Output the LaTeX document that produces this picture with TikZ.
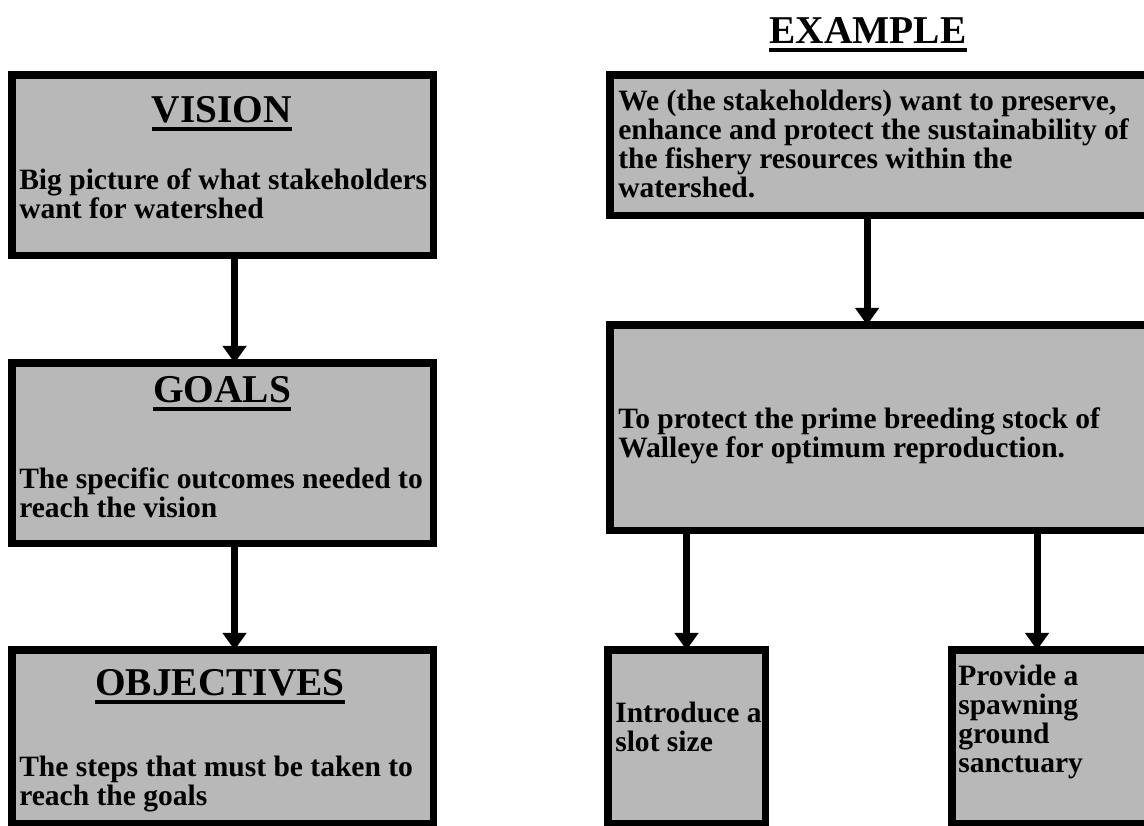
\documentclass[tikz,border=0pt]{standalone}
\usepackage{fontspec}
\setmainfont{Liberation Serif}
\usetikzlibrary{arrows.meta}

\tikzset{
  stage/.style={draw, line width=5pt, fill=black!28, anchor=north west, inner sep=0pt, outer sep=0pt},
  head/.style={anchor=base, inner sep=0pt, font=\fontsize{28}{30}\selectfont\bfseries},
  body/.style={anchor=north west, align=left, inner sep=0pt, font=\fontsize{21}{20.6}\selectfont\bfseries},
  flow/.style={line width=5pt, -{Triangle[length=4.3mm, width=5.8mm]}},
  headrule/.style={line width=3pt},
}

\begin{document}
\begin{tikzpicture}[x=0.025cm, y=-0.025cm]
  \clip (0,0) rectangle (1144,825);

  % planning levels
  \node[stage, minimum width=10.525cm, minimum height=4.5cm] (vision) at (12,75) {};
  \node[stage, minimum width=10.525cm, minimum height=4.5cm] (goals) at (12,363) {};
  \node[stage, minimum width=10.525cm, minimum height=4.325cm] (objectives) at (12,650) {};

  \node[head] (visionhead) at (222,122) {VISION};
  \node[body] (visiontext) at (19,168) {Big picture of what stakeholders\\want for watershed};
  \node[head] (goalshead) at (222,402) {GOALS};
  \node[body] (goalstext) at (19,467) {The specific outcomes needed to\\reach the vision};
  \node[head] (objectiveshead) at (220,695) {OBJECTIVES};
  \node[body] (objectivestext) at (19,756) {The steps that must be taken to\\reach the goals};

  \draw[flow] ([xshift=3mm]vision.south) -- ([xshift=3mm]goals.north);
  \draw[flow] ([xshift=3mm]goals.south) -- ([xshift=3mm]objectives.north);

  % walleye example
  \node[head] (example) at (868,43) {EXAMPLE};

  \node[stage, minimum width=14cm, minimum height=3.5cm] (wish) at (610,75) {};
  \node[stage, minimum width=14cm, minimum height=5.125cm] (aim) at (610,325) {};
  \node[stage, minimum width=3.925cm, minimum height=4.325cm] (slot) at (608,650) {};
  \node[stage, minimum width=5.5cm, minimum height=4.325cm] (sanct) at (952,650) {};

  \node[body] (wishtext) at (618,90) {We (the stakeholders) want to preserve,\\enhance and protect the sustainability of\\the fishery resources within the\\watershed.};
  \node[body] (aimtext) at (618,407) {To protect the prime breeding stock of\\Walleye for optimum reproduction.};
  \node[body] (slottext) at (615,702) {Introduce a\\slot size};
  \node[body] (sancttext) at (958,665) {Provide a\\spawning\\ground\\sanctuary};

  \coordinate (wishout) at ([xshift=-5.75mm]wish.south);
  \coordinate (sanctin) at ([xshift=-6.25mm]sanct.north);
  \draw[flow] (wishout) -- (wishout |- aim.north);
  \draw[flow] (aim.south -| slot.north) -- (slot.north);
  \draw[flow] (aim.south -| sanctin) -- (sanctin);

  % underlined headings
  \foreach \h in {visionhead, goalshead, objectiveshead, example}
    \draw[headrule] ([yshift=-1.7mm]\h.base west) -- ([yshift=-1.7mm]\h.base east);
\end{tikzpicture}
\end{document}
